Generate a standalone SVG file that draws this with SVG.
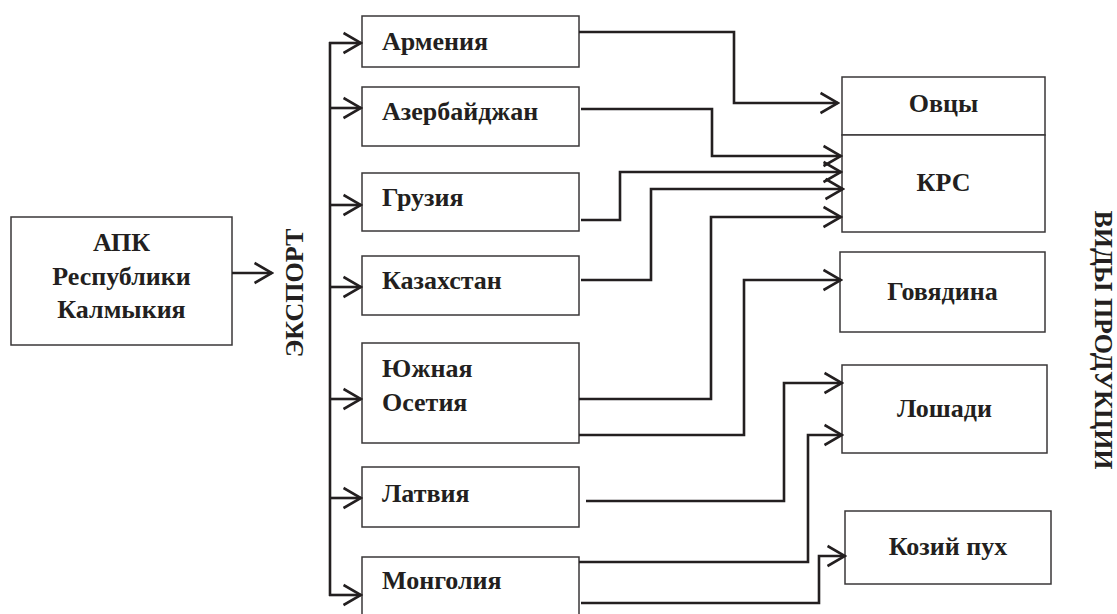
<svg xmlns="http://www.w3.org/2000/svg" width="1117" height="614" viewBox="0 0 1117 614">
<style>
.box{fill:#fff;stroke:#3a3738;stroke-width:1.5}
.t{font-family:"Liberation Serif","Times New Roman",serif;font-weight:bold;font-size:26px;fill:#231f20}
.c{text-anchor:middle}
.ln{fill:none;stroke:#231f20;stroke-width:2.6;stroke-linejoin:miter}
</style>
<defs>
<marker id="ah" viewBox="0 0 20 24" refX="18.5" refY="12" markerWidth="20" markerHeight="24" markerUnits="userSpaceOnUse" orient="auto">
<path d="M1,2 L18.5,12 L1,22" fill="none" stroke="#231f20" stroke-width="2.6"/>
</marker>
</defs>
<rect width="1117" height="614" fill="#fff"/>

<g id="apk">
<rect class="box" x="11" y="217" width="221" height="128"/>
<text class="t c" x="121.5" y="251">АПК</text>
<text class="t c" x="121.5" y="285">Республики</text>
<text class="t c" x="121.5" y="318">Калмыкия</text>
</g>

<g id="export-label">
<text class="t c" transform="translate(303,293) rotate(-90)">ЭКСПОРТ</text>
</g>

<g id="armenia"><rect class="box" x="362" y="16" width="217" height="51"/><text class="t" x="382" y="50">Армения</text></g>
<g id="azerbaijan"><rect class="box" x="362" y="87" width="217" height="59"/><text class="t" x="382" y="120">Азербайджан</text></g>
<g id="georgia"><rect class="box" x="362" y="173" width="217" height="58"/><text class="t" x="382" y="206">Грузия</text></g>
<g id="kazakhstan"><rect class="box" x="362" y="256" width="217" height="59"/><text class="t" x="382" y="289">Казахстан</text></g>
<g id="south-ossetia"><rect class="box" x="362" y="343" width="217" height="100"/><text class="t" x="382" y="377">Южная</text><text class="t" x="382" y="411">Осетия</text></g>
<g id="latvia"><rect class="box" x="362" y="467" width="217" height="60"/><text class="t" x="382" y="502">Латвия</text></g>
<g id="mongolia"><rect class="box" x="362" y="557" width="217" height="70"/><text class="t" x="382" y="589">Монголия</text></g>

<g id="sheep"><rect class="box" x="842" y="77" width="203" height="58"/><text class="t c" x="943.5" y="112">Овцы</text></g>
<g id="cattle"><rect class="box" x="842" y="135" width="203" height="97"/><text class="t c" x="943.5" y="191">КРС</text></g>
<g id="beef"><rect class="box" x="840" y="252" width="205" height="80"/><text class="t c" x="942.5" y="300">Говядина</text></g>
<g id="horses"><rect class="box" x="842" y="365" width="205" height="88"/><text class="t c" x="944.5" y="417">Лошади</text></g>
<g id="goat-down"><rect class="box" x="845" y="511" width="206" height="73"/><text class="t c" x="948" y="555">Козий пух</text></g>

<g id="products-label">
<text class="t c" transform="translate(1095,340) rotate(90)">ВИДЫ ПРОДУКЦИИ</text>
</g>

<g id="connectors">
<path class="ln" d="M232,273 H272" marker-end="url(#ah)"/>
<path class="ln" d="M330,42 V596"/>
<path class="ln" d="M329,43 H361" marker-end="url(#ah)"/>
<path class="ln" d="M329,108 H361" marker-end="url(#ah)"/>
<path class="ln" d="M329,205 H361" marker-end="url(#ah)"/>
<path class="ln" d="M329,287 H361" marker-end="url(#ah)"/>
<path class="ln" d="M329,399 H361" marker-end="url(#ah)"/>
<path class="ln" d="M329,498 H361" marker-end="url(#ah)"/>
<path class="ln" d="M329,595 H361" marker-end="url(#ah)"/>

<path class="ln" d="M579,32 H734 V103 H838" marker-end="url(#ah)"/>
<path class="ln" d="M581,109 H712 V156 H841" marker-end="url(#ah)"/>
<path class="ln" d="M581,220 H620 V172 H841" marker-end="url(#ah)"/>
<path class="ln" d="M581,280 H651 V189 H843" marker-end="url(#ah)"/>
<path class="ln" d="M579,399 H711 V217 H841" marker-end="url(#ah)"/>
<path class="ln" d="M579,435 H744 V280 H841" marker-end="url(#ah)"/>
<path class="ln" d="M586,501 H784 V383 H842" marker-end="url(#ah)"/>
<path class="ln" d="M579,562 H808 V435 H842" marker-end="url(#ah)"/>
<path class="ln" d="M581,603 H819 V556 H845" marker-end="url(#ah)"/>
</g>
</svg>
